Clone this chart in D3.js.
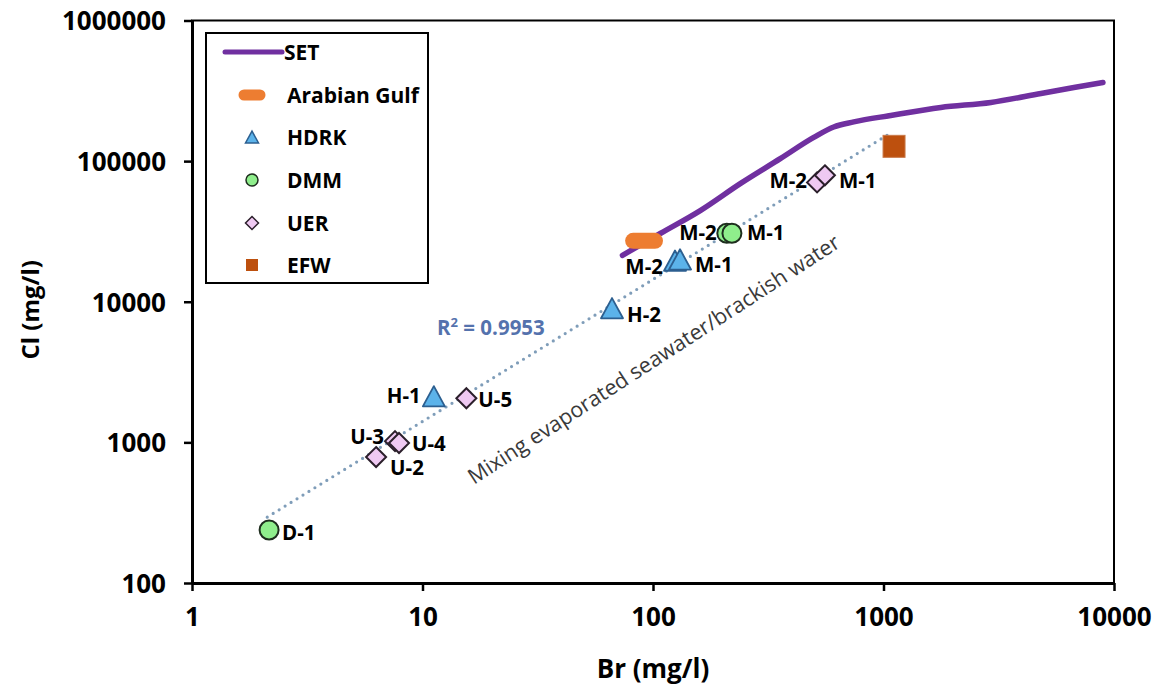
<!DOCTYPE html>
<html>
<head>
<meta charset="utf-8">
<script src="https://cdn.jsdelivr.net/npm/d3@7"></script>
<style>
  body { margin: 0; background: #fff; }
  svg text { font-family: 'Open Sans', sans-serif; }
</style>
</head>
<body>
<svg id="chart" width="1159" height="690"></svg>
<script>
// data (Br, Cl in mg/l)
const setBr = [73.7, 108, 161, 240, 358, 498, 608, 743, 1075, 1773, 2924, 4822, 6700, 8955];
const setCl = [21400, 30700, 44700, 69500, 104600, 147500, 175000, 190000, 211300, 241000, 261400, 302900, 334000, 362300];

const gulfBr = [82, 102];
const gulfCl = [27100, 27100];

const hdrkLabels = ['H-1', 'H-2', 'M-2', 'M-1'];
const hdrkBr = [11.2, 66.4, 124.6, 131];
const hdrkCl = [2130, 9000, 19600, 20000];

const dmmLabels = ['D-1', 'M-2', 'M-1'];
const dmmBr = [2.16, 209, 220];
const dmmCl = [238, 30700, 30700];

const uerLabels = ['U-2', 'U-3', 'U-4', 'U-5', 'M-2', 'M-1'];
const uerBr = [6.29, 7.6, 7.91, 15.5, 515, 557];
const uerCl = [786, 1020, 990, 2060, 70600, 79300];

const efwBr = [1111];
const efwCl = [127400];

// power-law trend (straight in log-log), given by its two ends
const trendBr = [2.12, 1067];
const trendCl = [294, 157400];
const r2Text = '0.9953';

const xTicks = [1, 10, 100, 1000, 10000];
const yTicks = [100, 1000, 10000, 100000, 1000000];

// label placement: [dx, dy, anchor]
const hdrkPos = [[-13, 7, 'end'], [15, 14, 'start'], [-12, 13, 'end'], [15, 13, 'start']];
const dmmPos = [[13, 10, 'start'], [-10, 7, 'end'], [15, 7, 'start']];
const uerPos = [[14, 18, 'start'], [-11, 3, 'end'], [13, 8, 'start'], [12, 9, 'start'], [-10, 6, 'end'], [14, 13, 'start']];

const svg = d3.select('#chart');

const x = d3.scaleLog().domain([1, 10000]).range([192, 1114]);
const y = d3.scaleLog().domain([100, 1000000]).range([583, 20.5]);

// frame
svg.append('rect')
  .attr('x', x(1)).attr('y', y(1000000))
  .attr('width', x(10000) - x(1)).attr('height', y(100) - y(1000000))
  .attr('fill', 'none').attr('stroke', '#000').attr('stroke-width', 2);

// axes
const xAxis = svg.append('g')
  .attr('transform', 'translate(0,' + y(100) + ')')
  .call(d3.axisBottom(x).tickValues(xTicks).tickFormat(d3.format('d')).tickSize(8).tickSizeOuter(0).tickPadding(17));
const yAxis = svg.append('g')
  .attr('transform', 'translate(' + x(1) + ',0)')
  .call(d3.axisLeft(y).tickValues(yTicks).tickFormat(d3.format('d')).tickSize(8).tickSizeOuter(0).tickPadding(18));

[xAxis, yAxis].forEach(a => {
  a.select('.domain').attr('stroke-width', 3);
  a.selectAll('.tick line').attr('stroke-width', 2.5);
  a.selectAll('.tick text')
    .style('font-family', 'Open Sans')
    .style('font-weight', 'bold')
    .style('font-size', '26px')
    .attr('fill', '#000');
});
yAxis.selectAll('.tick text').attr('dy', '0.36em');

svg.append('text')
  .attr('x', (x(1) + x(10000)) / 2).attr('y', 678)
  .attr('text-anchor', 'middle')
  .style('font-weight', 'bold').style('font-size', '26px')
  .text('Br (mg/l)');
svg.append('text')
  .attr('transform', 'translate(39,' + ((y(100) + y(1000000)) / 2 + 8) + ') rotate(-90)')
  .attr('text-anchor', 'middle')
  .style('font-weight', 'bold').style('font-size', '24px')
  .text('Cl (mg/l)');

// trend line (dotted)
svg.append('line')
  .attr('x1', x(trendBr[0])).attr('y1', y(trendCl[0]))
  .attr('x2', x(trendBr[1])).attr('y2', y(trendCl[1]))
  .attr('stroke', '#7f9db9').attr('stroke-width', 3.2)
  .attr('stroke-linecap', 'round').attr('stroke-dasharray', '0 7');

// mixing text, parallel to the trend
svg.append('text')
  .attr('transform', 'translate(474,485) rotate(-33)')
  .style('font-size', '21.5px').attr('fill', '#3a3a3a')
  .text('Mixing evaporated seawater/brackish water');

const r2 = svg.append('text')
  .attr('x', 437).attr('y', 335)
  .style('font-weight', 'bold').style('font-size', '20.5px').attr('fill', '#5472ad');
r2.append('tspan').text('R');
r2.append('tspan').attr('dy', -8).style('font-size', '13px').text('2');
r2.append('tspan').attr('dy', 8).text(' = ' + r2Text);

// SET line
const setLine = d3.line().curve(d3.curveMonotoneX).x(d => x(d[0])).y(d => y(d[1]));
svg.append('path')
  .datum(setBr.map((b, i) => [b, setCl[i]]))
  .attr('d', setLine)
  .attr('fill', 'none').attr('stroke', '#7030a0').attr('stroke-width', 5.5)
  .attr('stroke-linecap', 'round');

// Arabian Gulf (thick rounded bar)
svg.append('line')
  .attr('x1', x(gulfBr[0])).attr('y1', y(gulfCl[0]))
  .attr('x2', x(gulfBr[1])).attr('y2', y(gulfCl[1]))
  .attr('stroke', '#ed7d31').attr('stroke-width', 16).attr('stroke-linecap', 'round');

// marker shapes
const tri = s => 'M0,' + (-s * 0.46) + 'L' + (s / 2) + ',' + (s * 0.46) + 'L' + (-s / 2) + ',' + (s * 0.46) + 'Z';
const diamond = s => 'M0,' + (-s / 2) + 'L' + (s / 2) + ',0L0,' + (s / 2) + 'L' + (-s / 2) + ',0Z';

function drawLabels(labels, br, cl, pos) {
  svg.append('g').selectAll('text')
    .data(labels)
    .join('text')
    .attr('x', (d, i) => x(br[i]) + pos[i][0])
    .attr('y', (d, i) => y(cl[i]) + pos[i][1])
    .attr('text-anchor', (d, i) => pos[i][2])
    .style('font-weight', 'bold').style('font-size', '20.5px').attr('fill', '#000')
    .text(d => d);
}

// UER diamonds
svg.append('g').selectAll('path')
  .data(uerBr)
  .join('path')
  .attr('transform', (d, i) => 'translate(' + x(d) + ',' + y(uerCl[i]) + ')')
  .attr('d', diamond(20))
  .attr('fill', '#efc9f2').attr('stroke', '#2b1f2b').attr('stroke-width', 2);

// DMM circles
svg.append('g').selectAll('circle')
  .data(dmmBr)
  .join('circle')
  .attr('cx', d => x(d)).attr('cy', (d, i) => y(dmmCl[i]))
  .attr('r', 9.5)
  .attr('fill', '#8fee8c').attr('stroke', '#1e2e1e').attr('stroke-width', 2);

// HDRK triangles
svg.append('g').selectAll('path')
  .data(hdrkBr)
  .join('path')
  .attr('transform', (d, i) => 'translate(' + x(d) + ',' + y(hdrkCl[i]) + ')')
  .attr('d', tri(22))
  .attr('fill', '#5cb3ea').attr('stroke', '#2c5f90').attr('stroke-width', 1.8)
  .attr('stroke-linejoin', 'round');

// EFW square
svg.append('g').selectAll('rect')
  .data(efwBr)
  .join('rect')
  .attr('x', d => x(d) - 11).attr('y', (d, i) => y(efwCl[i]) - 11)
  .attr('width', 22).attr('height', 22)
  .attr('fill', '#bd500e').attr('stroke', '#c97a4a').attr('stroke-width', 1);

drawLabels(uerLabels, uerBr, uerCl, uerPos);
drawLabels(dmmLabels, dmmBr, dmmCl, dmmPos);
drawLabels(hdrkLabels, hdrkBr, hdrkCl, hdrkPos);

// legend
const legend = svg.append('g');
legend.append('rect')
  .attr('x', 206).attr('y', 33).attr('width', 222).attr('height', 250)
  .attr('fill', '#fff').attr('stroke', '#000').attr('stroke-width', 2);

const legendItems = ['SET', 'Arabian Gulf', 'HDRK', 'DMM', 'UER', 'EFW'];
const legendY = [52, 95, 137, 180, 223, 265];

legendItems.forEach((name, i) => {
  const cy = legendY[i];
  const cx = 252;
  if (name === 'SET') {
    legend.append('line').attr('x1', 225).attr('x2', 282).attr('y1', cy).attr('y2', cy)
      .attr('stroke', '#7030a0').attr('stroke-width', 5).attr('stroke-linecap', 'round');
  } else if (name === 'Arabian Gulf') {
    legend.append('line').attr('x1', cx - 8).attr('x2', cx + 8).attr('y1', cy).attr('y2', cy)
      .attr('stroke', '#ed7d31').attr('stroke-width', 11).attr('stroke-linecap', 'round');
  } else if (name === 'HDRK') {
    legend.append('path').attr('transform', 'translate(' + cx + ',' + cy + ')').attr('d', tri(13))
      .attr('fill', '#5cb3ea').attr('stroke', '#2c5f90').attr('stroke-width', 1.5);
  } else if (name === 'DMM') {
    legend.append('circle').attr('cx', cx).attr('cy', cy).attr('r', 6)
      .attr('fill', '#8fee8c').attr('stroke', '#1e2e1e').attr('stroke-width', 1.5);
  } else if (name === 'UER') {
    legend.append('path').attr('transform', 'translate(' + cx + ',' + cy + ')').attr('d', diamond(13))
      .attr('fill', '#efc9f2').attr('stroke', '#2b1f2b').attr('stroke-width', 1.5);
  } else {
    legend.append('rect').attr('x', cx - 6).attr('y', cy - 6).attr('width', 12).attr('height', 12)
      .attr('fill', '#bd500e');
  }
  legend.append('text')
    .attr('x', name === 'SET' ? 284 : 287).attr('y', cy).attr('dy', '0.36em')
    .style('font-weight', 'bold').style('font-size', '21px').attr('fill', '#000')
    .text(name);
});
</script>
</body>
</html>
